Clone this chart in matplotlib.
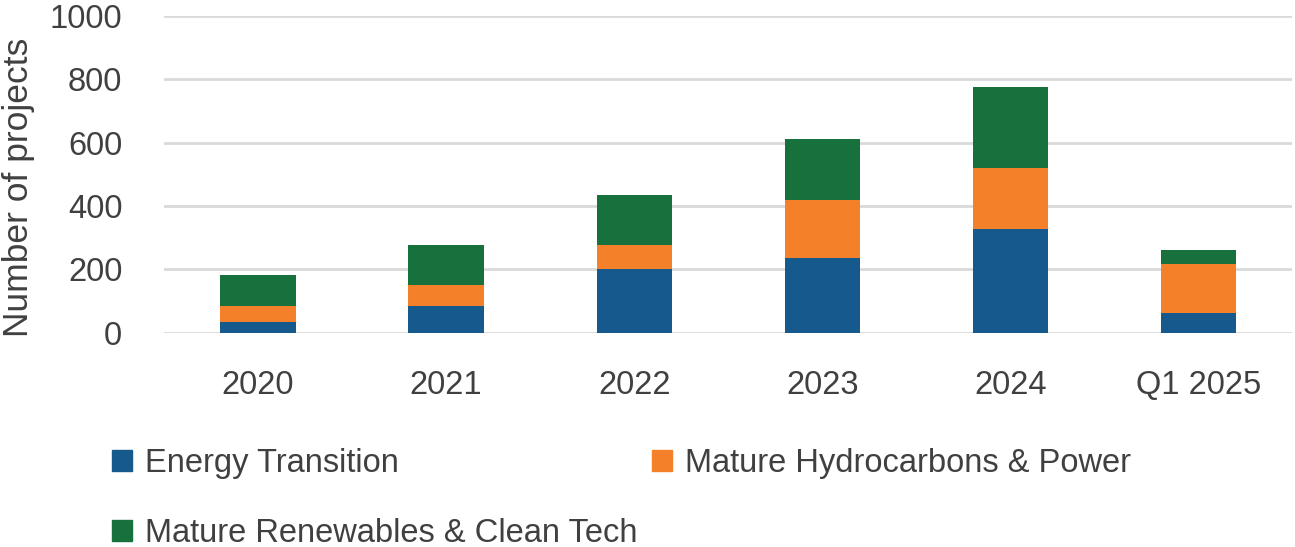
import numpy as np
import matplotlib.pyplot as plt
from matplotlib.patches import Patch

# data
categories = ['2020', '2021', '2022', '2023', '2024', 'Q1 2025']
energy_transition = [32, 83, 202, 235, 327, 63]
mature_hydrocarbons = [52, 68, 73, 184, 192, 154]
mature_renewables = [97, 125, 158, 192, 257, 44]

c_blue = '#165A8D'
c_orange = '#F4812A'
c_green = '#16713C'
txt = '#404040'

plt.rcParams['font.family'] = ['Liberation Sans', 'DejaVu Sans']

fig = plt.figure(figsize=(12.95, 5.47), dpi=100)
ax = fig.add_axes([0.1266, 0.392, 0.8714, 0.579])

x = np.arange(len(categories))
et = np.array(energy_transition)
mh = np.array(mature_hydrocarbons)
mr = np.array(mature_renewables)

ax.bar(x, et, width=0.4, color=c_blue, zorder=3)
ax.bar(x, mh, width=0.4, bottom=et, color=c_orange, zorder=3)
ax.bar(x, mr, width=0.4, bottom=et + mh, color=c_green, zorder=3)

ax.set_xlim(-0.5, len(categories) - 0.5)
ax.set_ylim(0, 1000)
ax.set_yticks(range(0, 1001, 200))
ax.set_xticks(x)
ax.set_xticklabels(categories)
ax.grid(axis='y', color='#D9D9D9', linewidth=2, zorder=0)
for s in ax.spines.values():
    s.set_visible(False)
ax.tick_params(length=0, labelsize=23.5, colors=txt)
ax.tick_params(axis='x', pad=27)
ax.tick_params(axis='y', pad=30)
ax.set_ylabel('Number of projects', fontsize=25.5, color=txt)
ax.yaxis.set_label_coords(-0.114, 0.46)

# legend: row-major order via column fill
handles = [Patch(color=c_blue, label='Energy Transition'),
           Patch(color=c_green, label='Mature Renewables & Clean Tech'),
           Patch(color=c_orange, label='Mature Hydrocarbons & Power')]
leg = fig.legend(handles=handles, ncol=2, loc='upper left',
                 bbox_to_anchor=(0.0767, 0.205), frameon=False,
                 fontsize=23.5, labelcolor=txt, handlelength=0.6, handleheight=0.6,
                 handletextpad=0.4, columnspacing=0.45, labelspacing=1.2,
                 borderaxespad=0)

fig.savefig('out.png', dpi=100)
